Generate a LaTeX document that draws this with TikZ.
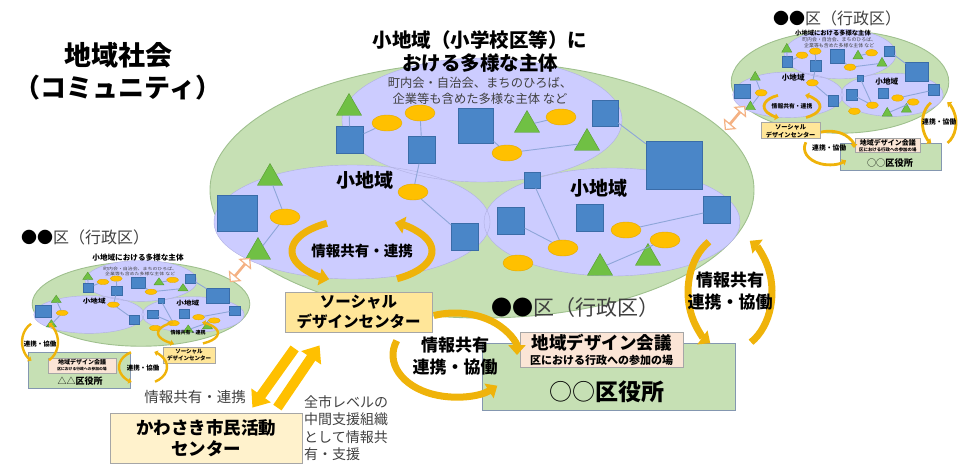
\documentclass[tikz,border=0pt]{standalone}
\usepackage{fontspec}
\setmainfont{Noto Sans CJK JP}
\usetikzlibrary{shapes.geometric,shapes.arrows,arrows.meta,positioning}

\definecolor{areagreen}{HTML}{C6E0B4}
\definecolor{areaedge}{HTML}{9FC08E}
\definecolor{subpurple}{HTML}{CCCCFF}
\definecolor{subedge}{HTML}{B0B0E2}
\definecolor{sqblue}{HTML}{4A86C8}
\definecolor{sqedge}{HTML}{3A6CA8}
\definecolor{ovgold}{HTML}{FFC000}
\definecolor{ovedge}{HTML}{E3A800}
\definecolor{trigreen}{HTML}{70C044}
\definecolor{triedge}{HTML}{559A30}
\definecolor{linkblue}{HTML}{8EA6D8}
\definecolor{arrowgold}{HTML}{EFB30A}
\definecolor{boxyellow}{HTML}{FFE699}
\definecolor{boxcream}{HTML}{FFF2CC}
\definecolor{boxpink}{HTML}{FBE5D6}
\definecolor{boxgrey}{HTML}{A6A6A6}
\definecolor{officeedge}{HTML}{8497B0}
\definecolor{textgrey}{HTML}{404040}
\definecolor{hollow}{HTML}{F4B183}

\tikzset{
  sq/.style={draw=sqedge, fill=sqblue, minimum size=#1, inner sep=0pt},
  sq/.default=27pt,
  ov/.style={ellipse, draw=ovedge, fill=ovgold, minimum width=30pt, minimum height=16pt, inner sep=0pt},
  tri/.style={regular polygon, regular polygon sides=3, draw=triedge, fill=trigreen, minimum size=29pt, inner sep=0pt},
  link/.style={draw=linkblue, line width=0.9pt},
  areatext/.style={font=\bfseries\fontsize{19.5}{19.5}\selectfont, inner sep=0pt},
  subtext/.style={font=\fontsize{12.3}{12.3}\selectfont, text=textgrey, inner sep=0pt},
  box/.style={draw=boxgrey, line width=0.8pt, inner sep=0pt, align=center},
  cycarrow/.style={draw=arrowgold, line width=#1, -{Triangle[length=0pt 1.4, width=0pt 2.4]}},
  cycline/.style={cycarrow=7pt},
  cyctext/.style={font=\bfseries\fontsize{17}{22}\selectfont, align=center, inner sep=0pt},
  bigarrow/.style={draw=ovgold, line width=10pt, -{Triangle[length=0pt 1.5, width=0pt 2.3]}},
  swap/.style={double arrow, draw=hollow, fill=white, line width=1.2pt, minimum height=30pt,
    minimum width=14pt, double arrow head extend=5pt, inner sep=0pt, rotate=50},
  % two arrows round a loop, left side down and right side up
  cycA/.pic={
    \draw[cycline] (240:1) arc[start angle=240, end angle=118, radius=1];
    \draw[cycline] (60:1) arc[start angle=60, end angle=-62, radius=1];
  },
  % two arrows both ending on the right
  cycB/.pic={
    \draw[cycline] (250:1) arc[start angle=250, end angle=360, radius=1];
    \draw[cycline] (200:1) arc[start angle=200, end angle=47, radius=1];
  },
  % one ward: area, small areas and their actors
  district/.pic={
    \fill[areagreen] (0,0) ellipse [x radius=272, y radius=128];
    \draw[areaedge, line width=0.9pt] (0,0) ellipse [x radius=272, y radius=128];
    \fill[subpurple] (0,-70) ellipse [x radius=140, y radius=62];
    \fill[subpurple] (-130,32) ellipse [x radius=138, y radius=57];
    \fill[subpurple] (130,32) ellipse [x radius=128, y radius=54];
    \draw[subedge] (0,-70) ellipse [x radius=140, y radius=62];
    \draw[subedge] (-130,32) ellipse [x radius=138, y radius=57];
    \draw[subedge] (130,32) ellipse [x radius=128, y radius=54];
    \node[subtext] (-note1) at (-2,-107) {町内会・自治会、まちのひろば、};
    \node[subtext] (-note2) at (-2,-91) {企業等も含めた多様な主体 など};
    \node[tri] (-t1) at (-133,-82) {};
    \node[tri] (-t2) at (45,-65) {};
    \node[tri] (-t3) at (105,-47) {};
    \node[tri] (-t4) at (-212,-12) {};
    \node[tri] (-t5) at (-224,62) {};
    \node[tri] (-t6) at (118,78) {};
    \node[tri] (-t7) at (166,68) {};
    \node[sq] (-q1) at (-132,-50) {};
    \node[sq] (-q2) at (-60,-40) {};
    \node[sq=35pt] (-q3) at (-6,-64) {};
    \node[sq=26pt] (-q4) at (123,-77) {};
    \node[sq=48pt, minimum width=56pt] (-q5) at (192,-25) {};
    \node[sq=16pt] (-q6) at (50,-10) {};
    \node[sq=36pt, minimum width=40pt] (-q7) at (-245,23) {};
    \node[sq] (-q8) at (-17,47) {};
    \node[sq] (-q9) at (29,31) {};
    \node[sq] (-q10) at (108,28) {};
    \node[sq] (-q11) at (235,20) {};
    \node[ov] (-o1) at (-95,-67) {};
    \node[ov] (-o2) at (-62,-77) {};
    \node[ov] (-o3) at (25,-37) {};
    \node[ov] (-o4) at (79,-73) {};
    \node[ov] (-o5) at (-197,27) {};
    \node[ov] (-o6) at (-69,2) {};
    \node[ov] (-o7) at (81,58) {};
    \node[ov] (-o8) at (36,73) {};
    \node[ov] (-o9) at (144,40) {};
    \node[ov] (-o10) at (183,50) {};
    \draw[link] (-t1) -- (-q1);
    \draw[link] (-q1) -- (-o1);
    \draw[link] (-o2) -- (-q2);
    \draw[link] (-q2) -- (-o6);
    \draw[link] (-q3) -- (-o3);
    \draw[link] (-o3) -- (-t3);
    \draw[link] (-t2) -- (-o4);
    \draw[link] (-q4) -- (-q5);
    \draw[link] (-t4) -- (-o5);
    \draw[link] (-o5) -- (-t5);
    \draw[link] (-o6) -- (-q8);
    \draw[link] (-q6) -- (-o7);
    \draw[link] (-q9) -- (-o7);
    \draw[link] (-o9) -- (-q11);
    \draw[link] (-o10) -- (-t6);
    \node[font=\bfseries\fontsize{19}{19}\selectfont, inner sep=0pt] (-west) at (-117,-10) {小地域};
    \node[font=\bfseries\fontsize{19}{19}\selectfont, inner sep=0pt] (-east) at (117,-2) {小地域};
  }
}

% boxes and loops of a ward, relative to its centre
\newcommand\wardparts[3]{%
  \pic[xscale=70,yscale=32] at (-120,61) {cycA};
  \node[font=\bfseries\fontsize{14.5}{14.5}\selectfont, inner sep=0pt] (#1share) at (-120,61) {情報共有・連携};
  \node[box, fill=boxyellow, minimum width=147pt, minimum height=40pt,
    font=\bfseries\fontsize{15.5}{20}\selectfont] (#1soc) at (-123.5,122) {ソーシャル\\デザインセンター};
  \node[box, fill=areagreen, draw=officeedge, minimum width=253pt, minimum height=67pt] (#1office) at (126.5,186.5) {};
  \node[box, fill=boxpink, minimum width=163pt, minimum height=35pt] (#1council) at (119.5,159.5) {};
  \node[font=\bfseries\fontsize{17.5}{17.5}\selectfont, inner sep=0pt] (#1counciltitle) at (119.5,153) {地域デザイン会議};
  \node[font=\bfseries\fontsize{11}{11}\selectfont, inner sep=0pt] (#1councilnote) at (119.5,170) {区における行政への参加の場};
  \node[font=\bfseries\fontsize{23}{23}\selectfont, inner sep=0pt] (#1officename) at (125,202) {#3};
  \pic[xscale=62,yscale=42] at (-27,165) {cycB};
  \node[cyctext] (#1coopmid) at (-27,166) {#2};
  \pic[xscale=42,yscale=58] at (248,102) {cycA};
  \node[cyctext] (#1coopright) at (248,101) {#2};
}

\begin{document}
\begin{tikzpicture}[x=1pt, y=-1pt]
\useasboundingbox (0,0) rectangle (958,464);

\node[font=\bfseries\fontsize{27}{27}\selectfont] (title) at (118,55) {地域社会};
\node[font=\bfseries\fontsize{26}{26}\selectfont] (subtitle) at (118,88) {（コミュニティ）};

% main ward
\begin{scope}[shift={(482,190)}]
  \pic (M) at (0,0) {district};
  \wardparts{m}{情報共有\\連携・協働}{{\mdseries ○○}区役所}
\end{scope}
\node[areatext] (mhead1) at (480,40) {小地域（小学校区等）に};
\node[areatext] (mhead2) at (480,63) {おける多様な主体};
\node[font=\fontsize{21}{21}\selectfont, inner sep=0pt] (mname) at (575,308) {●●{\color{textgrey}区（行政区）}};

% ward at the top right
\begin{scope}[shift={(840,82)}, scale=0.4, transform shape, cycline/.style={cycarrow=2.8pt}]
  \pic (R) at (0,0) {district};
  \wardparts{r}{連携・協働}{{\mdseries ○○}区役所}
\end{scope}
\node[font=\fontsize{16}{16}\selectfont, inner sep=0pt] (rname) at (837,18) {●●{\color{textgrey}区（行政区）}};
\node[font=\bfseries\fontsize{6.3}{6.3}\selectfont, inner sep=0pt] (rhead) at (833,33) {小地域における多様な主体};

% ward on the left
\begin{scope}[shift={(141,304)}, xscale=0.4, yscale=0.33, transform shape]
  \pic (L) at (0,0) {district};
\end{scope}
\node[font=\fontsize{16}{16}\selectfont, inner sep=0pt] (lname) at (85,237) {●●{\color{textgrey}区（行政区）}};
\node[font=\bfseries\fontsize{7.6}{7.6}\selectfont, inner sep=0pt] (lhead) at (138,258) {小地域における多様な主体};
\node[box, fill=areagreen, draw=officeedge, minimum width=102pt, minimum height=36pt] (loffice) at (79,370) {};
\node[box, fill=boxpink, minimum width=68pt, minimum height=15pt] (lcouncil) at (82,365.5) {};
\node[font=\bfseries\fontsize{6}{6}\selectfont, inner sep=0pt] (lcounciltitle) at (82,362) {地域デザイン会議};
\node[font=\bfseries\fontsize{3.8}{3.8}\selectfont, inner sep=0pt] (lcouncilnote) at (82,369.5) {区における行政への参加の場};
\node[font=\bfseries\fontsize{9}{9}\selectfont, inner sep=0pt] (lofficename) at (80,381) {{\mdseries △△}区役所};
\node[box, fill=boxyellow, minimum width=52pt, minimum height=16pt,
  font=\bfseries\fontsize{5.5}{6.5}\selectfont] (lsoc) at (189,355) {ソーシャル\\デザインセンター};
\begin{scope}[cycline/.style={cycarrow=2.4pt}]
  \pic[xscale=30,yscale=12] at (188,333) {cycA};
  \pic[xscale=18,yscale=21] at (40,342) {cycA};
  \pic[xscale=24,yscale=17] at (143,367) {cycA};
\end{scope}
\node[font=\bfseries\fontsize{5}{5}\selectfont, inner sep=0pt] (lshare) at (188,333) {情報共有・連携};
\node[font=\bfseries\fontsize{6.5}{6.5}\selectfont, inner sep=0pt] (lcoopleft) at (40,344) {連携・協働};
\node[font=\bfseries\fontsize{6.5}{6.5}\selectfont, inner sep=0pt] (lcoopmid) at (143,368) {連携・協働};

% exchange between wards
\node[swap] (swapL) at (240,270) {};
\node[swap] (swapR) at (735,118) {};

% city-wide centre
\node[box, fill=boxcream, minimum width=192pt, minimum height=50pt,
  font=\bfseries\fontsize{17.5}{21}\selectfont] (kawa) at (206,438) {かわさき市民活動\\センター};
\node[font=\fontsize{14.5}{14.5}\selectfont, text=textgrey, inner sep=0pt] (kawashare) at (195,397) {情報共有・連携};
\node[anchor=north west, align=left, inner sep=0pt, font=\fontsize{14}{17.6}\selectfont, text=textgrey]
  (kawanote) at (304,395) {全市レベルの\\中間支援組織\\として情報共\\有・支援};
\draw[bigarrow] ([shift={(10,16)}]msoc.south west) -- ([shift={(-50,-5)}]kawa.north east);
\draw[bigarrow] ([shift={(-25,-5)}]kawa.north east) -- ([shift={(35,13)}]msoc.south west);
\end{tikzpicture}
\end{document}
